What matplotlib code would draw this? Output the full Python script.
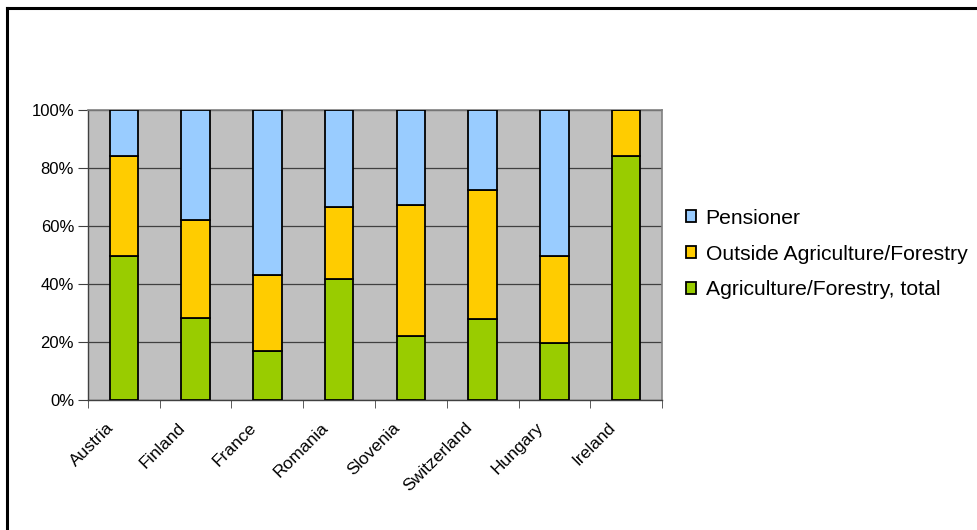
import numpy as np
import matplotlib.pyplot as plt
import matplotlib.transforms as mtransforms
from matplotlib.lines import Line2D

plt.rcParams['font.family'] = ['Liberation Sans', 'DejaVu Sans']

countries = ['Austria', 'Finland', 'France', 'Romania', 'Slovenia', 'Switzerland', 'Hungary', 'Ireland']
agri = [49.8, 28.3, 17.0, 41.8, 22.0, 27.8, 19.8, 84.2]
outside = [34.5, 33.9, 26.1, 24.8, 45.3, 44.5, 30.0, 15.8]
pensioner = [15.7, 37.8, 56.9, 33.4, 32.7, 27.7, 50.2, 0.0]

fig = plt.figure(figsize=(9.78, 5.30), dpi=100)
ax = fig.add_axes([88 / 978, 130 / 530, 574 / 978, 290 / 530])

# chart border (top and left visible)
fig.add_artist(Line2D([7.5 / 978, 7.5 / 978], [0, 1 - 7.5 / 530], color='black', lw=2.2))
fig.add_artist(Line2D([7.5 / 978, 1], [1 - 7.5 / 530, 1 - 7.5 / 530], color='black', lw=2.2))

x = np.arange(len(countries))
w = 0.40
agri_a = np.array(agri)
out_a = np.array(outside)
pen_a = np.array(pensioner)

ax.bar(x, agri_a, w, color='#99CC00', edgecolor='black', lw=1.3, label='Agriculture/Forestry, total', zorder=3)
ax.bar(x, out_a, w, bottom=agri_a, color='#FFCC00', edgecolor='black', lw=1.3,
       label='Outside Agriculture/Forestry', zorder=3)
ax.bar(x, pen_a, w, bottom=agri_a + out_a, color='#99CCFF', edgecolor='black', lw=1.3,
       label='Pensioner', zorder=3)

ax.set_facecolor('#C0C0C0')
ax.set_xlim(-0.5, len(countries) - 0.5)
ax.set_ylim(0, 100)
ax.set_yticks(np.arange(0, 101, 20))
ax.set_yticklabels([f'{v}%' for v in range(0, 101, 20)], fontsize=12)
ax.yaxis.grid(True, color='#404040', lw=0.9, zorder=1)
ax.set_axisbelow(True)

ax.set_xticks(x)
ax.set_xticklabels(countries, rotation=45, ha='right', va='center', rotation_mode='anchor', fontsize=12.6)
ax.tick_params(axis='x', length=0, pad=0)
offset = mtransforms.ScaledTranslation(-13 / 100, -25 / 100, fig.dpi_scale_trans)
for lab in ax.get_xticklabels():
    lab.set_transform(lab.get_transform() + offset)
ax.set_xticks(np.arange(-0.5, len(countries)), minor=True)
ax.tick_params(axis='x', which='minor', length=6, color='#404040')
ax.tick_params(axis='y', length=7, color='#404040', pad=3)

for s in ['top', 'right']:
    ax.spines[s].set_color('#808080')
    ax.spines[s].set_linewidth(1.2)
for s in ['left', 'bottom']:
    ax.spines[s].set_color('#404040')
    ax.spines[s].set_linewidth(1.0)

handles, labels = ax.get_legend_handles_labels()
leg = fig.legend(handles[::-1], labels[::-1], loc='center left', bbox_to_anchor=(686 / 978, 1 - 254 / 530),
                 frameon=False, fontsize=15.2, handlelength=0.48, handleheight=0.48, handletextpad=0.45,
                 labelspacing=0.8, borderpad=0, borderaxespad=0)

fig.savefig('out.png', dpi=100)
